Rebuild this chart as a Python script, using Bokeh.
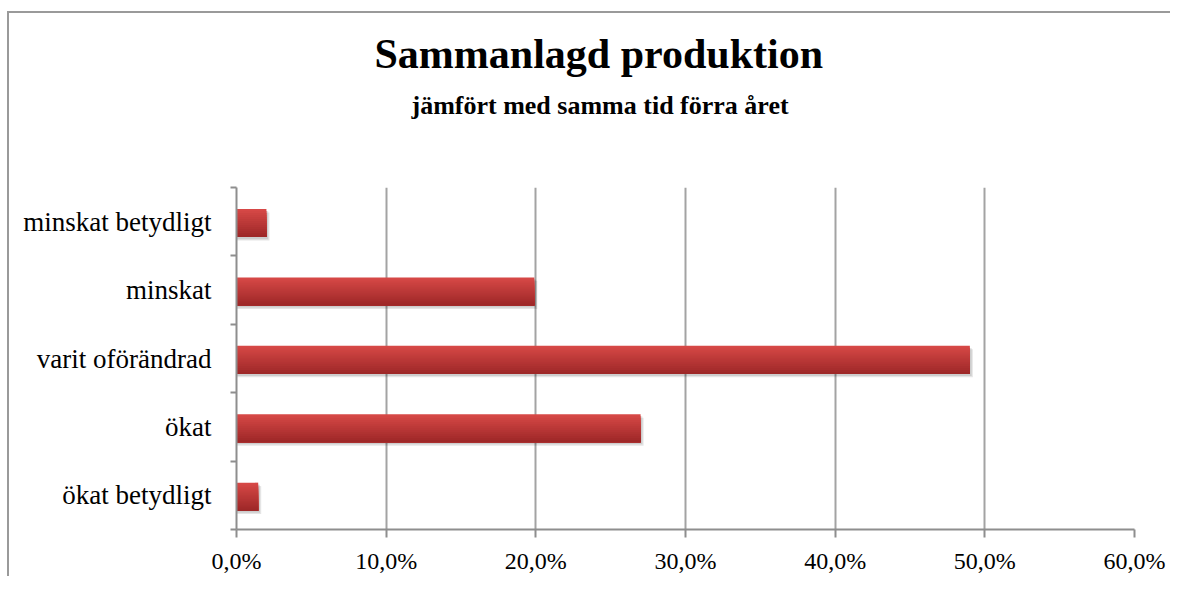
from bokeh.plotting import figure
from bokeh.models import FixedTicker, ColumnDataSource, Title, LinearAxis
from bokeh.embed import file_html
from bokeh.resources import INLINE

# ---- data ----
categories = ["ökat betydligt", "ökat", "varit oförändrad", "minskat", "minskat betydligt"]
values = [1.45, 27.0, 49.0, 19.9, 2.0]
x_ticks = [0, 10, 20, 30, 40, 50, 60]
x_tick_labels = ["0,0%", "10,0%", "20,0%", "30,0%", "40,0%", "50,0%", "60,0%"]
title_text = "Sammanlagd produktion"
subtitle_text = "jämfört med samma tid förra året"

SERIF = "Liberation Serif"
W, H = 1163, 565
MB_L, MB_R, MB_T, MB_B = 227, 38, 174, 49
n = len(categories)

p = figure(width=W, height=H, output_backend="svg", toolbar_location=None,
           x_range=(0, 60), y_range=(0, n),
           min_border_left=MB_L, min_border_right=MB_R, min_border_top=MB_T, min_border_bottom=MB_B,
           styles={"border-top": "2px solid #9a9a9a", "border-left": "2px solid #9a9a9a",
                   "margin-top": "11px", "margin-left": "7px"})
p.outline_line_color = None
p.background_fill_color = "white"
p.border_fill_color = "white"

# grid
p.ygrid.visible = False
p.xgrid.grid_line_color = "#a3a3a3"
p.xgrid.grid_line_width = 2

# x axis
p.xaxis.ticker = FixedTicker(ticks=x_ticks)
p.xaxis.major_label_overrides = {t: l for t, l in zip(x_ticks, x_tick_labels)}
p.xaxis.axis_line_color = "#8e8e8e"
p.xaxis.axis_line_width = 2
p.xaxis.major_tick_line_color = "#8e8e8e"
p.xaxis.major_tick_line_width = 2
p.xaxis.major_tick_out = 8
p.xaxis.major_tick_in = 0
p.xaxis.minor_tick_line_color = None
p.xaxis.major_label_standoff = 10
p.xaxis.major_label_text_font = SERIF
p.xaxis.major_label_text_font_size = "24px"
p.xaxis.major_label_text_color = "black"

# y axis: labels at category centres, ticks at category boundaries
centers = [i + 0.5 for i in range(n)]
bounds = [i for i in range(n + 1)]
p.yaxis.ticker = FixedTicker(ticks=centers, minor_ticks=bounds)
p.yaxis.major_label_overrides = {c: lab for c, lab in zip(centers, categories)}
p.yaxis.axis_line_color = "#8e8e8e"
p.yaxis.axis_line_width = 2
p.yaxis.major_tick_line_color = None
p.yaxis.major_tick_out = 0
p.yaxis.major_tick_in = 0
p.yaxis.minor_tick_line_color = "#8e8e8e"
p.yaxis.minor_tick_line_width = 2
p.yaxis.minor_tick_out = 6
p.yaxis.minor_tick_in = 0
p.yaxis.major_label_standoff = 19
p.yaxis.major_label_text_font = SERIF
p.yaxis.major_label_text_font_size = "27px"
p.yaxis.major_label_text_color = "black"

# bars: soft shadow + vertical gradient (overlapping, bottom-anchored layers)
bar_h = 0.41
shift = -0.02
shadow = ColumnDataSource(dict(y=[c + shift - 0.05 for c in centers],
                               right=[v + 0.2 for v in values]))
p.hbar(y="y", left=0, right="right", height=bar_h, source=shadow,
       fill_color="black", fill_alpha=0.10, line_color=None)
shadow2 = ColumnDataSource(dict(y=[c + shift - 0.03 for c in centers],
                                right=[v + 0.12 for v in values]))
p.hbar(y="y", left=0, right="right", height=bar_h, source=shadow2,
       fill_color="black", fill_alpha=0.10, line_color=None)

top_rgb = (214, 72, 70)
bot_rgb = (158, 40, 40)
N = 14
for k in range(N):
    t = k / (N - 1)
    col = "#%02x%02x%02x" % tuple(int(round(a + (b - a) * t)) for a, b in zip(top_rgb, bot_rgb))
    hk = bar_h * (1 - k / N)
    src = ColumnDataSource(dict(
        y=[c + shift - bar_h / 2 + hk / 2 for c in centers],
        right=values))
    p.hbar(y="y", left=0, right="right", height=hk, source=src,
           fill_color=col, line_color=None)

# invisible spacer axis (one hidden tick) between the frame and the subtitle
spacer = LinearAxis(ticker=FixedTicker(ticks=[30]), major_label_overrides={30: ""},
                    axis_line_color=None, major_tick_line_color=None,
                    minor_tick_line_color=None, major_tick_out=57, major_tick_in=0,
                    minor_tick_out=0, minor_tick_in=0, major_label_standoff=0,
                    major_label_text_font_size="1px")
p.add_layout(spacer, "above")

# titles (subtitle first -> closer to the frame)
p.add_layout(Title(text=subtitle_text, align="left", offset=175, standoff=21,
                   text_font=SERIF, text_font_size="26px", text_font_style="bold",
                   text_color="black"), "above")
p.add_layout(Title(text=title_text, align="left", offset=138, standoff=3,
                   text_font=SERIF, text_font_size="42px", text_font_style="bold",
                   text_color="black"), "above")

open("out.html", "w").write(file_html(p, INLINE))
